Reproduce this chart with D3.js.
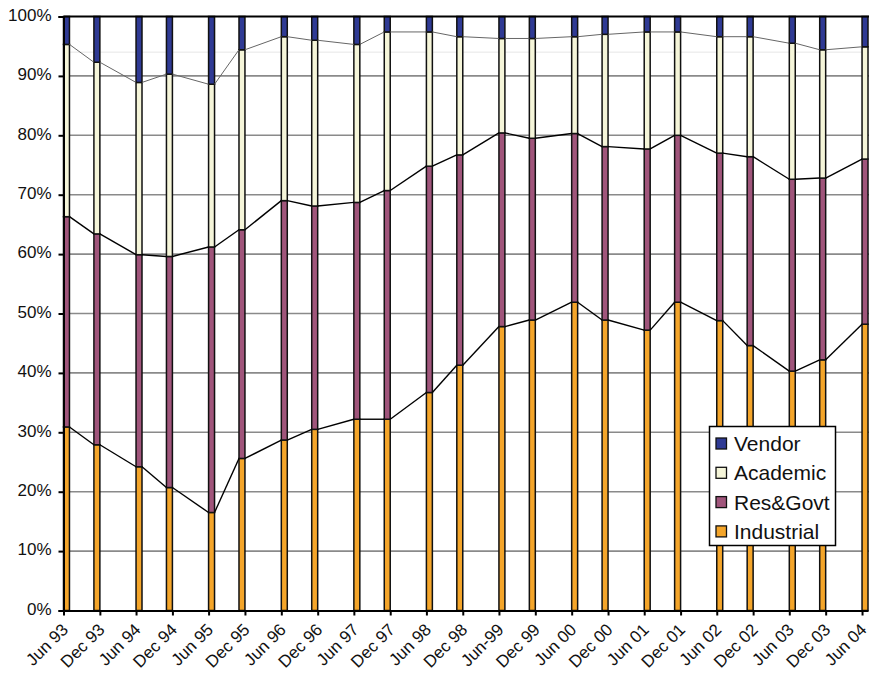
<!DOCTYPE html>
<html>
<head>
<meta charset="utf-8">
<script src="https://cdn.jsdelivr.net/npm/d3@7"></script>
<style>
  html, body { margin: 0; padding: 0; background: #fff; }
  svg { display: block; font-family: "Liberation Sans", Arial, Helvetica, sans-serif; }
</style>
</head>
<body>
<svg id="chart" width="871" height="673"></svg>
<script>
// ---- Data ----
const categories = ["Jun 93","Dec 93","Jun 94","Dec 94","Jun 95","Dec 95","Jun 96","Dec 96",
  "Jun 97","Dec 97","Jun 98","Dec 98","Jun-99","Dec 99","Jun 00","Dec 00","Jun 01","Dec 01",
  "Jun 02","Dec 02","Jun 03","Dec 03","Jun 04"];
// list release month (TOP500: June / November)
const listDates = ["1993-06","1993-11","1994-06","1994-11","1995-06","1995-11","1996-06","1996-11",
  "1997-06","1997-11","1998-06","1998-11","1999-06","1999-11","2000-06","2000-11","2001-06","2001-11",
  "2002-06","2002-11","2003-06","2003-11","2004-06"];
const industrial = [30.9,27.9,24.2,20.7,16.5,25.6,28.7,30.5,32.2,32.2,36.7,41.3,47.8,48.9,51.9,48.9,47.2,51.9,48.8,44.6,40.3,42.2,48.2];
const resGovt    = [35.4,35.5,35.7,38.9,44.7,38.5,40.3,37.6,36.5,38.5,38.1,35.4,32.6,30.6,28.4,29.2,30.5,28.1,28.2,31.8,32.3,30.6,27.8];
const academic   = [29.0,28.9,29.0,30.7,27.4,30.3,27.6,27.9,26.6,26.7,22.6,19.9,15.9,16.8,16.3,18.9,19.7,17.4,19.6,20.2,22.9,21.6,18.9];
const vendor     = [4.7,7.7,11.1,9.7,11.4,5.6,3.4,4.0,4.7,2.6,2.6,3.4,3.7,3.7,3.4,3.0,2.6,2.6,3.4,3.4,4.5,5.6,5.1];
const seriesNames = ["Industrial","Res&Govt","Academic","Vendor"];
const yTicks = [0,10,20,30,40,50,60,70,80,90,100];

// ---- Layout ----
const svg = d3.select("#chart");
const mLeft = 63.5, mRight = 868, mTop = 16.5, mBottom = 610.5;
const parse = d3.timeParse("%Y-%m");
const dates = listDates.map(parse);

const x = d3.scaleTime()
  .domain([parse("1993-06"), parse("2004-07")])
  .range([mLeft, mRight]);
const y = d3.scaleLinear().domain([0, 100]).range([mBottom, mTop]);

const colors = {
  "Industrial": "#F4A52A",
  "Res&Govt": "#A0557B",
  "Academic": "#F5F5D9",
  "Vendor": "#2F3A94"
};

const rows = categories.map((c, i) => ({
  cat: c, date: dates[i],
  "Industrial": industrial[i], "Res&Govt": resGovt[i], "Academic": academic[i], "Vendor": vendor[i]
}));
const stacked = d3.stack().keys(seriesNames)(rows);

// gridlines
svg.append("g").selectAll("line").data(yTicks.filter(d => d > 0 && d < 100)).join("line")
  .attr("x1", mLeft).attr("x2", mRight + 1)
  .attr("y1", d => y(d)).attr("y2", d => y(d))
  .attr("stroke", "#8a8a8a").attr("stroke-width", 1.6);
// faint line
svg.append("line").attr("x1", mLeft).attr("x2", mRight + 1)
  .attr("y1", y(94)).attr("y2", y(94))
  .attr("stroke", "#e6e6e6").attr("stroke-width", 1);

// bars
const monthEnd = d => d3.timeMonth.offset(d, 1);
svg.append("g").selectAll("g").data(stacked).join("g")
  .attr("fill", s => colors[s.key])
  .selectAll("rect").data(s => s).join("rect")
  .attr("x", d => x(d.data.date))
  .attr("width", d => x(monthEnd(d.data.date)) - x(d.data.date))
  .attr("y", d => y(d[1]))
  .attr("height", d => y(d[0]) - y(d[1]))
  .attr("stroke", "#111").attr("stroke-width", 1.5);

// series lines (connecting bar tops, right edge to next left edge)
const lineStyles = [
  { idx: 0, stroke: "#000", width: 1.4 },
  { idx: 1, stroke: "#000", width: 1.4 },
  { idx: 2, stroke: "#666", width: 1 }
];
lineStyles.forEach(ls => {
  const s = stacked[ls.idx];
  const segs = d3.pairs(s);
  svg.append("g").selectAll("line").data(segs).join("line")
    .attr("x1", p => x(monthEnd(p[0].data.date)))
    .attr("y1", p => y(p[0][1]))
    .attr("x2", p => x(p[1].data.date))
    .attr("y2", p => y(p[1][1]))
    .attr("stroke", ls.stroke).attr("stroke-width", ls.width);
});

// top border
svg.append("line").attr("x1", mLeft).attr("x2", mRight + 1)
  .attr("y1", mTop).attr("y2", mTop).attr("stroke", "#000").attr("stroke-width", 2);

// y axis
const yAxis = svg.append("g").attr("transform", `translate(${mLeft},0)`)
  .call(d3.axisLeft(y).tickValues(yTicks).tickFormat(d => d + "%").tickSize(5).tickPadding(7));
yAxis.select(".domain").attr("stroke", "#000").attr("stroke-width", 2);
yAxis.selectAll(".tick line").attr("stroke", "#000").attr("stroke-width", 2);
yAxis.selectAll(".tick text").attr("font-size", 17).attr("fill", "#111")
  .attr("font-family", "Liberation Sans, Arial, sans-serif").attr("dy", "0.22em");

// x axis with ticks at Jun / Dec boundaries
const tickDates = dates.map(d => d.getMonth() === 10 ? d3.timeMonth.offset(d, 1) : d);
const xAxis = svg.append("g").attr("transform", `translate(0,${mBottom})`)
  .call(d3.axisBottom(x).tickValues(tickDates).tickFormat((d, i) => categories[i]).tickSize(5).tickSizeOuter(0));
xAxis.select(".domain").attr("stroke", "#000").attr("stroke-width", 2);
xAxis.selectAll(".tick line").attr("stroke", "#000").attr("stroke-width", 2);
xAxis.selectAll(".tick text")
  .attr("font-size", 17).attr("fill", "#111")
  .attr("font-family", "Liberation Sans, Arial, sans-serif")
  .attr("text-anchor", "end")
  .attr("transform", "translate(1,16) rotate(-45)")
  .attr("x", 0).attr("y", 0).attr("dy", "0.35em");

// legend
const lg = svg.append("g").attr("transform", "translate(709.5,426.5)");
lg.append("rect").attr("width", 126).attr("height", 119)
  .attr("fill", "#fff").attr("stroke", "#000").attr("stroke-width", 1.5);
const legendOrder = ["Vendor", "Academic", "Res&Govt", "Industrial"];
const items = lg.selectAll("g.item").data(legendOrder).join("g")
  .attr("class", "item")
  .attr("transform", (d, i) => `translate(0,${17 + i * 29.3})`);
items.append("rect").attr("x", 6.5).attr("y", -5.5).attr("width", 10.5).attr("height", 11)
  .attr("fill", d => colors[d]).attr("stroke", "#111").attr("stroke-width", 1.3);
items.append("text").attr("x", 24.5).attr("y", 7.5)
  .attr("font-size", 21).attr("fill", "#111")
  .text(d => d);
</script>
</body>
</html>
